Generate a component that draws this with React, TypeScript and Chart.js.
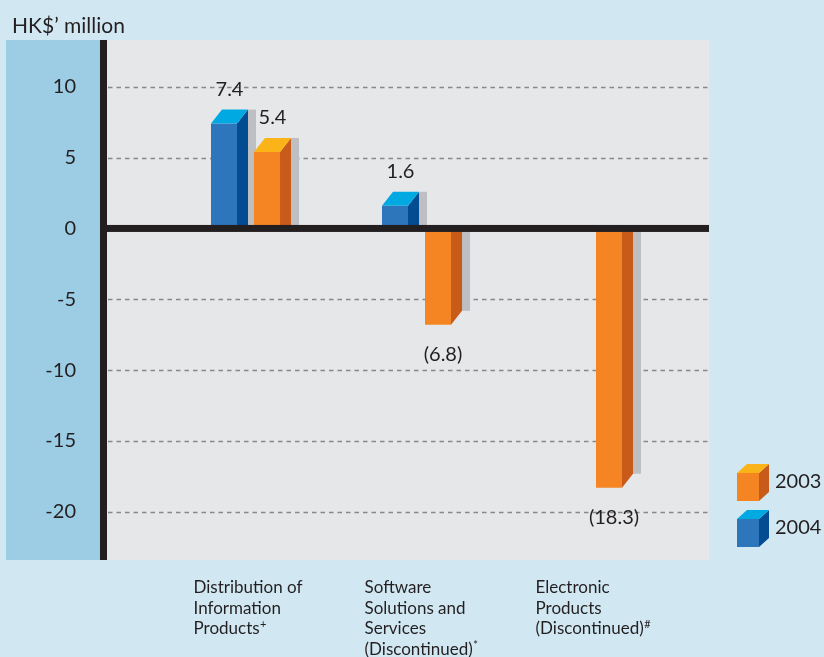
import { useEffect, useRef } from "react";
import { Chart, registerables } from "chart.js";

Chart.register(...registerables);

// ---------- data ----------
const categories: string[][] = [
  ["Distribution of", "Information", "Products"],
  ["Software", "Solutions and", "Services", "(Discontinued)"],
  ["Electronic", "Products", "(Discontinued)"],
];
const footnoteMarks = ["+", "*", "#"];
const seriesNames = ["2004", "2003"];
const values2004: (number | null)[] = [7.4, 1.6, null];
const values2003: (number | null)[] = [5.4, -6.8, -18.3];
const yTicks = [-20, -15, -10, -5, 0, 5, 10];
const yTitle = "HK$\u2019 million";

// ---------- styles ----------
const FONT = "Lato, 'Noto Sans', 'DejaVu Sans', sans-serif";
const TEXT = "#231f20";
const PAGE_BG = "#d1e8f3";
const STRIP_BG = "#9dcde4";
const PLOT_BG = "#e6e7e9";
const GRID = "#86888b";
const SHADOW = "#bdbfc2";
const AXIS = "#231f20";
const BLUE = { front: "#2e76bc", side: "#034c91", top: "#00a9e1" };
const ORANGE = { front: "#f58423", side: "#c95b1a", top: "#fbb417" };
const PALETTES = [BLUE, ORANGE];
const DX = 11;
const DY = 14;
const SHADOW_W = 8;

const fmt = (v: number) => (v < 0 ? `(${Math.abs(v).toFixed(1)})` : v.toFixed(1));

const decorPlugin = {
  id: "decor",
  beforeDraw(chart: any) {
    const { ctx, chartArea: a, width, height } = chart;
    ctx.save();
    ctx.fillStyle = PAGE_BG;
    ctx.fillRect(0, 0, width, height);
    ctx.fillStyle = STRIP_BG;
    ctx.fillRect(6, a.top, a.left - 4 - 6, a.bottom - a.top);
    ctx.fillStyle = PLOT_BG;
    ctx.fillRect(a.left, a.top, a.right - a.left, a.bottom - a.top);
    ctx.fillStyle = TEXT;
    ctx.font = `21px ${FONT}`;
    ctx.textAlign = "left";
    ctx.textBaseline = "alphabetic";
    ctx.fillText(yTitle, 12, 32.5);
    ctx.restore();
  },
  beforeDatasetsDraw(chart: any) {
    const { ctx, chartArea: a } = chart;
    const ys = chart.scales.y;
    ctx.save();
    ctx.strokeStyle = GRID;
    ctx.lineWidth = 1.5;
    ctx.setLineDash([4.5, 4]);
    yTicks.forEach((t) => {
      if (t === 0) return;
      const py = Math.round(ys.getPixelForValue(t)) + 0.5;
      ctx.beginPath();
      ctx.moveTo(a.left + 4, py);
      ctx.lineTo(a.right, py);
      ctx.stroke();
    });
    ctx.setLineDash([]);
    // shadows behind bars
    chart.data.datasets.forEach((ds: any, di: number) => {
      const meta = chart.getDatasetMeta(di);
      meta.data.forEach((bar: any, i: number) => {
        const v = ds.data[i].y;
        if (v == null) return;
        const { x, y, base, width } = bar.getProps(["x", "y", "base", "width"], true);
        const right = x + width / 2;
        ctx.fillStyle = SHADOW;
        if (y < base) ctx.fillRect(right + DX, y - DY, SHADOW_W, base - (y - DY));
        else ctx.fillRect(right + DX, base, SHADOW_W, Math.max(0, y - DY - base));
      });
    });
    ctx.restore();
  },
  afterDatasetsDraw(chart: any) {
    const { ctx, chartArea: a } = chart;
    const ys = chart.scales.y;
    const xs = chart.scales.x;
    ctx.save();
    // 3D faces
    chart.data.datasets.forEach((ds: any, di: number) => {
      const pal = PALETTES[di];
      const meta = chart.getDatasetMeta(di);
      meta.data.forEach((bar: any, i: number) => {
        const v = ds.data[i].y;
        if (v == null) return;
        const { x, y, base, width } = bar.getProps(["x", "y", "base", "width"], true);
        const left = x - width / 2;
        const right = x + width / 2;
        if (y < base) {
          ctx.fillStyle = pal.side;
          ctx.beginPath();
          ctx.moveTo(right, y);
          ctx.lineTo(right + DX, y - DY);
          ctx.lineTo(right + DX, base);
          ctx.lineTo(right, base);
          ctx.closePath();
          ctx.fill();
          ctx.fillStyle = pal.top;
          ctx.beginPath();
          ctx.moveTo(left, y);
          ctx.lineTo(left + DX, y - DY);
          ctx.lineTo(right + DX, y - DY);
          ctx.lineTo(right, y);
          ctx.closePath();
          ctx.fill();
        } else {
          ctx.fillStyle = pal.side;
          ctx.beginPath();
          ctx.moveTo(right, base);
          ctx.lineTo(right + DX, base);
          ctx.lineTo(right + DX, y - DY);
          ctx.lineTo(right, y);
          ctx.closePath();
          ctx.fill();
        }
      });
    });
    // zero line and axis line
    const zy = ys.getPixelForValue(0);
    ctx.fillStyle = AXIS;
    ctx.fillRect(a.left - 4, zy - 3.5, a.right - (a.left - 4), 7);
    ctx.fillRect(a.left - 4, a.top, 7, a.bottom - a.top);
    // value labels
    ctx.fillStyle = TEXT;
    ctx.font = `20px ${FONT}`;
    ctx.textAlign = "center";
    ctx.textBaseline = "middle";
    chart.data.datasets.forEach((ds: any, di: number) => {
      const meta = chart.getDatasetMeta(di);
      meta.data.forEach((bar: any, i: number) => {
        const v = ds.data[i].y;
        if (v == null) return;
        const { x, y, base } = bar.getProps(["x", "y", "base"], true);
        if (y < base) ctx.fillText(fmt(v), x + DX / 2, y - DY - 20);
        else ctx.fillText(fmt(v), x + 5, y + 30);
      });
    });
    // category labels
    ctx.textAlign = "left";
    ctx.textBaseline = "alphabetic";
    categories.forEach((lines, i) => {
      const lx = xs.getPixelForValue(i) - 52;
      lines.forEach((ln, li) => {
        const by = a.bottom + 33 + li * 20.5;
        ctx.font = `17px ${FONT}`;
        ctx.fillText(ln, lx, by);
        if (li === lines.length - 1) {
          const w = ctx.measureText(ln).width;
          ctx.font = `11px ${FONT}`;
          ctx.fillText(footnoteMarks[i], lx + w + 0.5, by - 6);
        }
      });
    });
    // legend (3D cubes)
    const order = chart.data.datasets.map((_: any, i: number) => i).reverse();
    order.forEach((di: number, row: number) => {
      const pal = PALETTES[di];
      const fx = a.right + 28;
      const fy = a.bottom - 87 + row * 46;
      const fw = 22;
      const fh = 28;
      const dx = 10;
      const dy = 9;
      ctx.fillStyle = pal.front;
      ctx.fillRect(fx, fy, fw, fh);
      ctx.fillStyle = pal.side;
      ctx.beginPath();
      ctx.moveTo(fx + fw, fy);
      ctx.lineTo(fx + fw + dx, fy - dy);
      ctx.lineTo(fx + fw + dx, fy + fh - dy);
      ctx.lineTo(fx + fw, fy + fh);
      ctx.closePath();
      ctx.fill();
      ctx.fillStyle = pal.top;
      ctx.beginPath();
      ctx.moveTo(fx, fy);
      ctx.lineTo(fx + dx, fy - dy);
      ctx.lineTo(fx + fw + dx, fy - dy);
      ctx.lineTo(fx + fw, fy);
      ctx.closePath();
      ctx.fill();
      ctx.fillStyle = TEXT;
      ctx.font = `20px ${FONT}`;
      ctx.textBaseline = "middle";
      ctx.fillText(chart.data.datasets[di].label, fx + fw + dx + 6, fy + 9);
      ctx.textBaseline = "alphabetic";
    });
    ctx.restore();
  },
};

export default function App() {
  const ref = useRef<HTMLCanvasElement | null>(null);
  useEffect(() => {
    if (!ref.current) return;
    const chart = new Chart(ref.current, {
      type: "bar",
      data: {
        datasets: [
          {
            label: seriesNames[0],
            data: values2004.map((v, i) => ({ x: i, y: v })) as any,
            backgroundColor: BLUE.front,
            borderWidth: 0,
          },
          {
            label: seriesNames[1],
            data: values2003.map((v, i) => ({ x: i, y: v })) as any,
            backgroundColor: ORANGE.front,
            borderWidth: 0,
          },
        ],
      },
      options: {
        responsive: false,
        maintainAspectRatio: false,
        animation: false,
        categoryPercentage: 0.503,
        barPercentage: 0.605,
        layout: { padding: { top: 39, right: 115, bottom: 97, left: 0 } },
        plugins: {
          legend: { display: false },
          title: { display: false },
          tooltip: { enabled: false },
        },
        scales: {
          x: {
            type: "linear",
            display: false,
            offset: false,
            min: -0.8275,
            max: 2.7105,
            afterBuildTicks: (s: any) => {
              s.ticks = categories.map((_, i) => ({ value: i }));
            },
          },
          y: {
            min: -23.4,
            max: 13.3,
            afterFit: (s: any) => {
              s.width = 104;
            },
            afterBuildTicks: (s: any) => {
              s.ticks = yTicks.map((v) => ({ value: v }));
            },
            grid: { display: false, drawTicks: false },
            border: { display: false },
            ticks: {
              padding: 28,
              color: TEXT,
              font: { family: FONT, size: 20 },
              callback: (v: any) => String(v),
            },
          },
        },
      } as any,
      plugins: [decorPlugin],
    });
    return () => chart.destroy();
  }, []);
  return (
    <div style={{ position: "fixed", left: 0, top: 0, width: 824, height: 657 }}>
      <canvas ref={ref} width={824} height={657} style={{ display: "block" }} />
    </div>
  );
}
